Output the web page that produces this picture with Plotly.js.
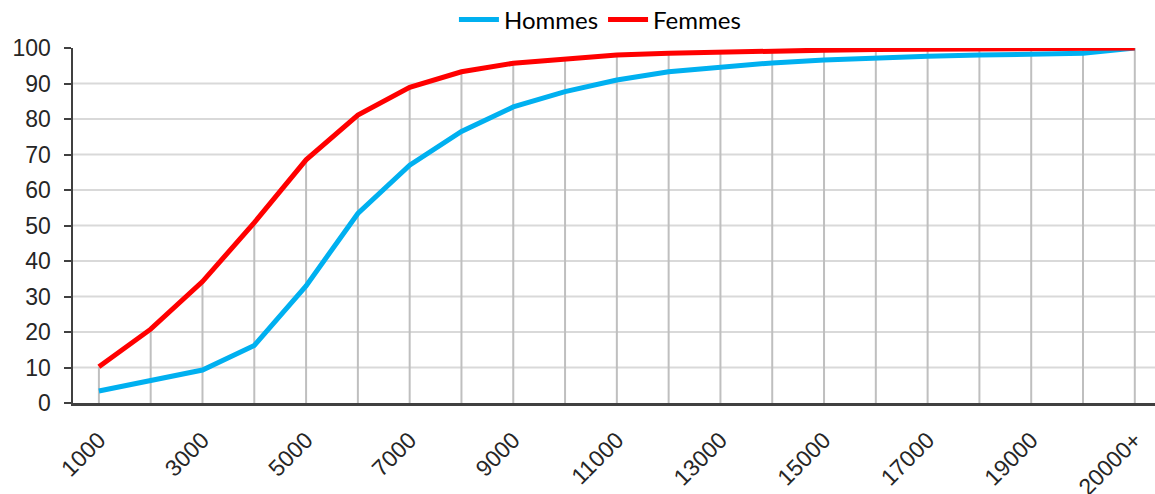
<!DOCTYPE html>
<html>
<head>
<meta charset="utf-8">
<script src="https://cdn.plot.ly/plotly-3.0.1.min.js"></script>
<style>html,body{margin:0;padding:0;background:#fff;}#chart{width:1155px;height:494px;}</style>
</head>
<body>
<div id="chart"></div>
<script>
const categories = ["1000","2000","3000","4000","5000","6000","7000","8000","9000","10000","11000","12000","13000","14000","15000","16000","17000","18000","19000","20000","20000+"];
const hommes = [3.4, 6.2, 9.3, 16.2, 33, 53.4, 67, 76.5, 83.4, 87.7, 91, 93.3, 94.7, 95.8, 96.6, 97.3, 97.7, 98.0, 98.3, 98.5, 100];
const femmes = [10.2, 20.8, 34.2, 50.8, 68.5, 81.1, 88.9, 93.3, 95.7, 96.9, 98.0, 98.5, 98.9, 99.2, 99.4, 99.6, 99.7, 99.8, 99.9, 99.9, 100];
const tickLabels = ["1000","3000","5000","7000","9000","11000","13000","15000","17000","19000","20000+"];
const gridValues = [10, 20, 30, 40, 50, 60, 70, 80, 90];

const shapes = [];
gridValues.forEach(v => shapes.push({
  type: "line", xref: "paper", yref: "y", x0: 0, x1: 1, y0: v, y1: v,
  line: {color: "#d9d9d9", width: 2}, layer: "below"
}));
categories.forEach((c, i) => shapes.push({
  type: "line", xref: "x", yref: "y", x0: i, x1: i, y0: 0, y1: Math.max(hommes[i], femmes[i]),
  line: {color: "#bfbfbf", width: 2}, layer: "below"
}));

const traces = [
  {x: categories, y: hommes, name: "Hommes", type: "scatter", mode: "lines",
   line: {color: "#00b0f0", width: 5}},
  {x: categories, y: femmes, name: "Femmes", type: "scatter", mode: "lines",
   line: {color: "#ff0000", width: 5}}
];

const tickFont = {family: "'Liberation Sans', Arial, sans-serif", size: 23, color: "#262626"};

const layout = {
  width: 1155, height: 494,
  margin: {l: 73, r: 0, t: 48, b: 91, autoexpand: false},
  paper_bgcolor: "#fff", plot_bgcolor: "#fff",
  showlegend: true,
  legend: {orientation: "h", x: 0.487, xanchor: "center", y: 1.079, yanchor: "middle",
           font: {family: "Lato, 'Liberation Sans', sans-serif", size: 24, color: "#000"},
           itemwidth: 40, tracegroupgap: 0},
  xaxis: {
    type: "category", range: [-0.5, 20.39], automargin: false,
    tickmode: "array", tickvals: tickLabels, ticktext: tickLabels,
    tickangle: -45, showgrid: false, zeroline: false,
    showline: true, linecolor: "#404040", linewidth: 2.5,
    ticks: "", ticklabelstandoff: 12,
    tickfont: tickFont
  },
  yaxis: {
    range: [0, 100], tickvals: [0,10,20,30,40,50,60,70,80,90,100], automargin: false,
    showgrid: false, zeroline: false,
    showline: true, linecolor: "#404040", linewidth: 2.5,
    ticks: "outside", ticklen: 7, tickwidth: 2, tickcolor: "#404040",
    ticklabelstandoff: 8,
    tickfont: tickFont
  },
  shapes: shapes
};

Plotly.newPlot("chart", traces, layout, {displayModeBar: false, staticPlot: true});
</script>
</body>
</html>
